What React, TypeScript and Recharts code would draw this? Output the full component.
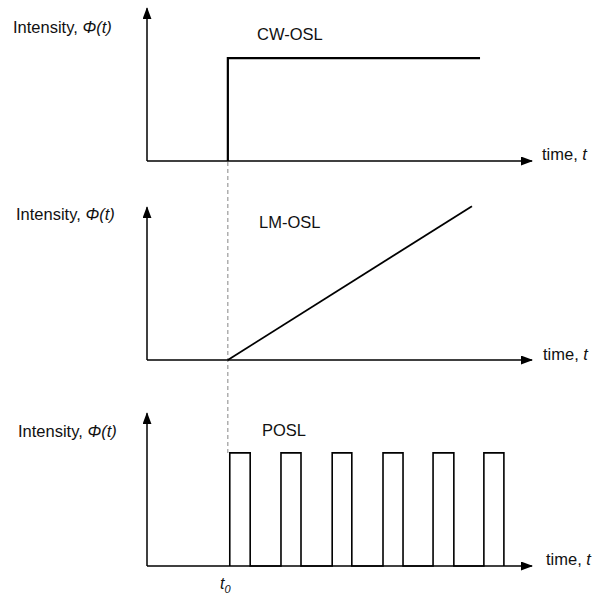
import React from 'react';
import { LineChart, Line, XAxis, YAxis, ReferenceLine } from 'recharts';

// time axis: 0 at the intensity axis, 10 at the arrow tip
const T0 = 2.1;
const cwTimes = [2.1, 2.1, 8.65];
const cwValues = [0, 2.02, 2.02];
const lmTimes = [2.1, 8.44];
const lmValues = [0, 3.02];
const pulseStarts = [2.15, 3.48, 4.81, 6.13, 7.43, 8.75];
const pulseEnds = [2.68, 4.0, 5.32, 6.65, 7.97, 9.27];
const pulseLevel = 2.22;

const cwData = cwTimes.map((t, i) => ({ t, v: cwValues[i] }));
const lmData = lmTimes.map((t, i) => ({ t, v: lmValues[i] }));
const posData = pulseStarts.flatMap((s, i) => [
  { t: s, v: 0 },
  { t: s, v: pulseLevel },
  { t: pulseEnds[i], v: pulseLevel },
  { t: pulseEnds[i], v: 0 },
]);
const t0Data = [{ t: T0, v: 0 }, { t: T0, v: 1 }];

const W = 593;
const margin = { top: 10, right: 61, bottom: 27, left: 147 };
const font = '"Liberation Sans", Arial, sans-serif';

const Arrow = ({ id }: { id: string }) => (
  <defs>
    <marker id={id} viewBox="0 0 12 9" markerWidth={12} markerHeight={9} refX={11} refY={4.5}
      orient="auto" markerUnits="userSpaceOnUse">
      <path d="M0,0 L12,4.5 L0,9 z" fill="#000" />
    </marker>
  </defs>
);

const Txt = ({ x, base, children, size = 16.5 }: any) => (
  <div style={{
    position: 'absolute', left: x, top: base - size * 0.85, fontSize: size, lineHeight: `${size}px`,
    fontFamily: font, whiteSpace: 'nowrap', color: '#111',
  }}>{children}</div>
);

const Panel = ({ id, top, data, width }: any) => (
  <div style={{ position: 'absolute', left: 0, top }}>
    <LineChart width={W} height={200} data={data} margin={margin}>
      <Arrow id={id} />
      <XAxis type="number" dataKey="t" domain={[0, 10]} hide />
      <YAxis type="number" domain={[0, 3.2]} hide />
      <ReferenceLine segment={[{ x: 0, y: 0 }, { x: 10, y: 0 }]} stroke="#000" strokeWidth={1.5}
        markerEnd={`url(#${id})`} ifOverflow="visible" />
      <ReferenceLine segment={[{ x: 0, y: 0 }, { x: 0, y: 3 }]} stroke="#000" strokeWidth={1.5}
        markerEnd={`url(#${id})`} ifOverflow="visible" />
      <Line type="linear" dataKey="v" stroke="#000" strokeWidth={width} dot={false}
        isAnimationActive={false} />
    </LineChart>
  </div>
);

export default function App() {
  return (
    <div style={{ position: 'absolute', left: 0, top: 0, width: W, height: 601, background: '#fff' }}>
      {/* dashed t0 marker running through all three panels */}
      <div style={{ position: 'absolute', left: 0, top: 0 }}>
        <LineChart width={W} height={601} data={t0Data}
          margin={{ top: 161, right: 61, bottom: 148, left: 147 }}>
          <XAxis type="number" dataKey="t" domain={[0, 10]} hide />
          <YAxis type="number" domain={[0, 1]} hide />
          <Line type="linear" dataKey="v" stroke="#666" strokeWidth={0.8} strokeDasharray="4 3"
            dot={false} isAnimationActive={false} />
        </LineChart>
      </div>
      <Panel id="a1" top={-12} data={cwData} width={2.2} />
      <Panel id="a2" top={187} data={lmData} width={1.8} />
      <Panel id="a3" top={393} data={posData} width={1.6} />

      <Txt x={13} base={33}>Intensity, <i>Φ(t)</i></Txt>
      <Txt x={16} base={220}>Intensity, <i>Φ(t)</i></Txt>
      <Txt x={18} base={437}>Intensity, <i>Φ(t)</i></Txt>
      <Txt x={257} base={40}>CW-OSL</Txt>
      <Txt x={259} base={228}>LM-OSL</Txt>
      <Txt x={262} base={436}>POSL</Txt>
      <Txt x={542} base={160}>time, <i>t</i></Txt>
      <Txt x={543} base={360}>time, <i>t</i></Txt>
      <Txt x={546} base={565}>time, <i>t</i></Txt>
      <Txt x={220} base={590} size={16}><i>t<sub style={{ fontSize: 11 }}>0</sub></i></Txt>
    </div>
  );
}
